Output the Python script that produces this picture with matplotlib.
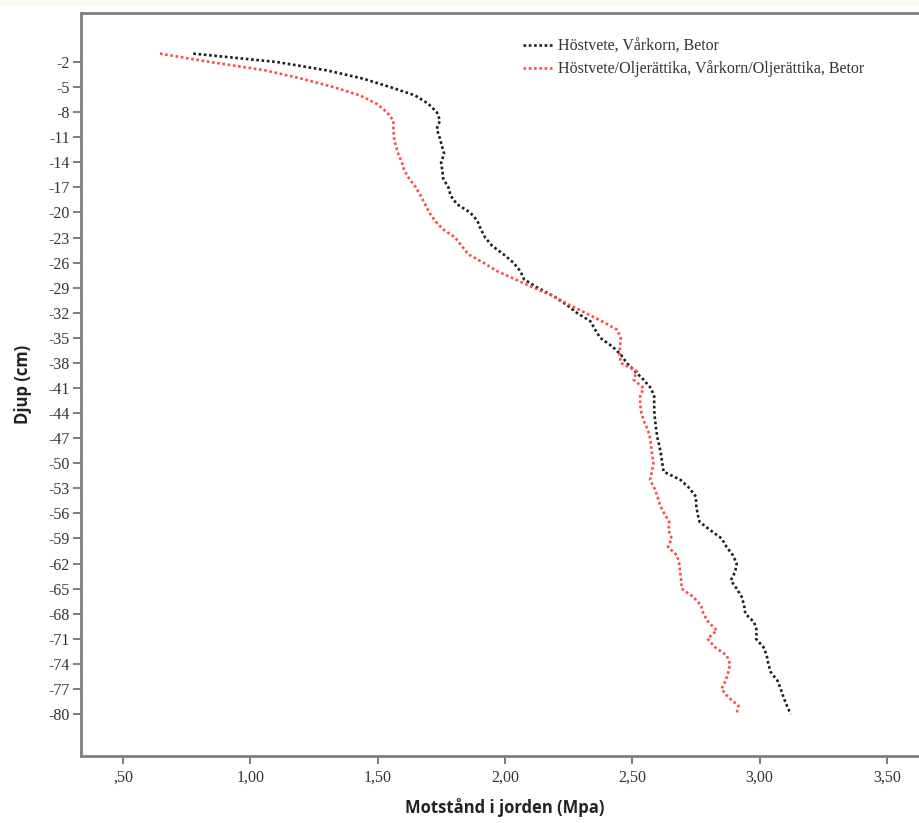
import matplotlib
matplotlib.use("Agg")
import matplotlib.pyplot as plt
import numpy as np

depth = list(range(-1, -81, -1))

black_vals = [0.776, 1.104, 1.300, 1.444, 1.549, 1.647, 1.699, 1.732, 1.745, 1.732,
              1.743, 1.752, 1.761, 1.749, 1.754, 1.758, 1.778, 1.787, 1.811, 1.863,
              1.892, 1.905, 1.922, 1.950, 1.994, 2.033, 2.060, 2.075, 2.128, 2.190,
              2.240, 2.282, 2.335, 2.354, 2.374, 2.420, 2.455, 2.478, 2.511, 2.544,
              2.573, 2.586, 2.586, 2.587, 2.590, 2.594, 2.599, 2.607, 2.613, 2.618,
              2.623, 2.690, 2.725, 2.750, 2.751, 2.756, 2.764, 2.806, 2.851, 2.870,
              2.895, 2.910, 2.904, 2.887, 2.910, 2.930, 2.939, 2.944, 2.978, 2.989,
              2.986, 3.015, 3.028, 3.034, 3.044, 3.070, 3.083, 3.094, 3.107, 3.122]

red_vals = [0.645, 0.842, 1.058, 1.202, 1.326, 1.431, 1.496, 1.536, 1.562, 1.562,
            1.564, 1.571, 1.581, 1.595, 1.605, 1.625, 1.650, 1.669, 1.686, 1.703,
            1.725, 1.756, 1.804, 1.830, 1.856, 1.915, 1.968, 2.040, 2.112, 2.190,
            2.249, 2.315, 2.380, 2.439, 2.455, 2.452, 2.450, 2.455, 2.518, 2.505,
            2.544, 2.531, 2.531, 2.536, 2.546, 2.561, 2.570, 2.574, 2.578, 2.583,
            2.577, 2.570, 2.587, 2.599, 2.609, 2.625, 2.645, 2.642, 2.655, 2.640,
            2.675, 2.684, 2.688, 2.692, 2.694, 2.740, 2.770, 2.779, 2.799, 2.832,
            2.795, 2.825, 2.871, 2.884, 2.877, 2.867, 2.850, 2.877, 2.917, 2.910]

series_labels = ["Höstvete, Vårkorn, Betor",
                 "Höstvete/Oljerättika, Vårkorn/Oljerättika, Betor"]

x_ticks = [0.5, 1.0, 1.5, 2.0, 2.5, 3.0, 3.5]
x_tick_labels = [",50", "1,00", "1,50", "2,00", "2,50", "3,00", "3,50"]
y_ticks = list(range(-2, -81, -3))
y_tick_labels = [str(v) for v in y_ticks]

W, H = 919, 823
fig = plt.figure(figsize=(W / 100, H / 100), dpi=100)
fig.patches.append(matplotlib.patches.Rectangle((0, 1 - 5 / H), 1, 5 / H,
                                                transform=fig.transFigure,
                                                color="#fffbec", zorder=0))
left, top, bottom = 81, 13, 756
ax = fig.add_axes([left / W, 1 - bottom / H, (W - left) / W + 0.01, (bottom - top) / H])

ax.plot(black_vals, depth, color="#1e1e1e", lw=1.9, linestyle=(0, (1, 1)),
        label=series_labels[0])
ax.plot(red_vals, depth, color="#ff4a4a", lw=1.9, linestyle=(0, (1, 1)),
        label=series_labels[1])

ax.set_xlim(0.335, 3.626 + 0.01 * W / 838 * 3.29)
ax.set_ylim(-85.02, 3.86)

ax.set_xticks(x_ticks)
ax.set_xticklabels(x_tick_labels, family="Liberation Serif", fontsize=11.5, color="#333333")
ax.set_yticks(y_ticks)
ax.set_yticklabels(y_tick_labels, family="Liberation Serif", fontsize=11.5, color="#333333")
ax.tick_params(axis="both", direction="out", length=6, width=1.2, color="#666666")
ax.tick_params(axis="x", pad=4)
ax.tick_params(axis="y", pad=2)

for s in ["left", "top", "bottom"]:
    ax.spines[s].set_color("#808080")
    ax.spines[s].set_linewidth(2)
ax.spines["right"].set_visible(False)

ax.set_xlabel("Motstånd i jorden (Mpa)", family="Open Sans", fontweight="bold",
              fontsize=12, color="#222222", labelpad=9)
ax.set_ylabel("Djup (cm)", family="Open Sans", fontweight="bold",
              fontsize=12, color="#222222", labelpad=12)

leg = ax.legend(loc="upper left", bbox_to_anchor=(0.5217, 0.9657), frameon=False,
                borderaxespad=0, borderpad=0, handlelength=1.9, handletextpad=0.3,
                labelspacing=0.375, prop={"family": "Liberation Serif", "size": 11.5})
for t in leg.get_texts():
    t.set_color("#333333")

fig.savefig("out.png", dpi=100)
